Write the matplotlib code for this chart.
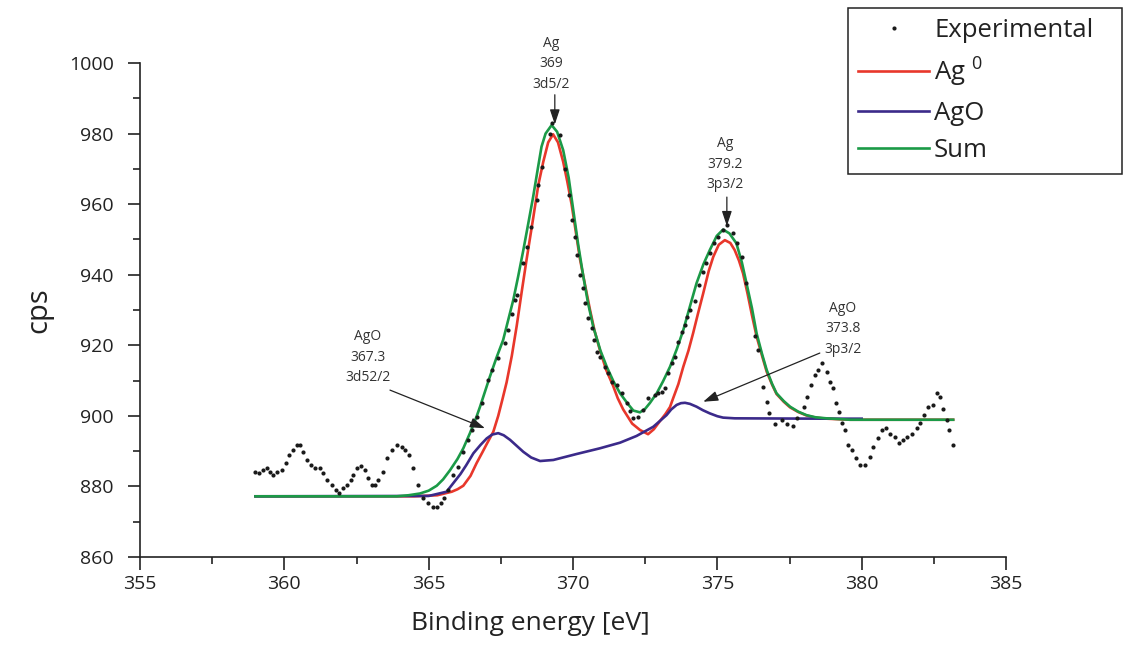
import matplotlib
matplotlib.use("Agg")
import matplotlib.pyplot as plt
from matplotlib.ticker import MultipleLocator

plt.rcParams['font.family'] = ['Open Sans', 'DejaVu Sans']
plt.rcParams['mathtext.fontset'] = 'custom'
plt.rcParams['mathtext.rm'] = 'Open Sans'
plt.rcParams['mathtext.it'] = 'Open Sans'

# ---------------- data ----------------
exp_energy = [
    359.00, 359.13, 359.27, 359.41, 359.50, 359.62, 359.76, 359.91, 360.06, 360.17,
    360.29, 360.43, 360.54, 360.66, 360.77, 360.91, 361.06, 361.23, 361.35, 361.49,
    361.64, 361.79, 361.90, 362.04, 362.18, 362.30, 362.39, 362.51, 362.64, 362.79,
    362.91, 363.03, 363.14, 363.25, 363.43, 363.55, 363.72, 363.89, 364.06, 364.18,
    364.33, 364.47, 364.64, 364.81, 364.99, 365.14, 365.28, 365.42, 365.53, 365.68,
    365.85, 366.03, 366.20, 366.37, 366.49, 366.66, 366.84, 367.07, 367.18, 367.41,
    367.64, 367.76, 367.87, 367.99, 368.05, 368.28, 368.39, 368.55, 368.74, 368.80,
    368.91, 369.20, 369.26, 369.55, 369.72, 369.86, 369.95, 370.07, 370.13, 370.24,
    370.36, 370.41, 370.53, 370.65, 370.73, 370.82, 370.93, 371.11, 371.22, 371.34,
    371.51, 371.69, 371.86, 371.97, 372.09, 372.26, 372.43, 372.60, 372.84, 372.95,
    373.07, 373.18, 373.30, 373.42, 373.53, 373.64, 373.76, 373.88, 373.96, 374.07,
    374.22, 374.37, 374.51, 374.61, 374.74, 374.88, 375.03, 375.18, 375.34, 375.55,
    375.69, 375.84, 376.01, 376.30, 376.42, 376.59, 376.71, 376.80, 377.00, 377.23,
    377.40, 377.61, 377.75, 378.00, 378.12, 378.23, 378.38, 378.50, 378.61, 378.79,
    378.90, 379.02, 379.11, 379.22, 379.31, 379.42, 379.53, 379.65, 379.80, 379.94,
    380.11, 380.29, 380.40, 380.57, 380.69, 380.84, 380.98, 381.15, 381.30, 381.44,
    381.56, 381.73, 381.90, 382.02, 382.16, 382.31, 382.46, 382.60, 382.73, 382.83,
    382.94, 383.03, 383.15,
]
exp_cps = [
    884.2, 883.7, 884.6, 885.1, 884.2, 883.2, 884.2, 884.6, 886.6, 888.9,
    890.3, 891.7, 891.7, 889.8, 887.5, 886.1, 885.1, 885.1, 883.7, 881.8,
    880.4, 879.0, 878.2, 879.5, 880.4, 881.8, 883.2, 885.1, 885.8, 884.6,
    882.3, 880.4, 880.4, 881.8, 884.2, 888.0, 890.3, 891.7, 891.3, 890.3,
    888.9, 885.1, 880.4, 876.6, 875.2, 874.3, 874.1, 875.2, 876.6, 879.0,
    883.2, 885.6, 889.8, 893.2, 896.0, 899.8, 903.6, 910.2, 913.0, 916.3,
    920.6, 924.3, 929.0, 932.8, 934.2, 943.2, 947.9, 953.6, 961.2, 965.4,
    970.6, 980.0, 982.9, 979.6, 970.0, 962.6, 955.5, 950.8, 945.6, 939.9,
    936.1, 931.9, 927.6, 924.8, 921.5, 918.0, 916.8, 913.9, 912.1, 909.7,
    908.7, 906.4, 903.6, 901.5, 899.3, 899.8, 901.7, 905.0, 905.9, 906.4,
    906.8, 907.8, 912.1, 914.9, 916.8, 920.8, 923.8, 925.7, 928.1, 930.0,
    932.6, 937.1, 940.8, 943.4, 946.1, 948.9, 950.8, 952.7, 954.1, 951.7,
    948.9, 945.1, 937.6, 922.6, 918.7, 908.1, 904.0, 900.9, 897.7, 898.8,
    897.7, 897.1, 899.3, 902.6, 905.4, 908.7, 911.6, 913.0, 914.9, 912.5,
    909.7, 907.8, 903.6, 901.2, 898.1, 896.0, 891.7, 890.3, 888.0, 886.1,
    886.1, 888.4, 891.3, 893.6, 896.0, 896.6, 895.0, 893.9, 892.2, 893.2,
    894.1, 895.0, 896.5, 897.9, 900.2, 902.6, 903.1, 906.4, 905.3, 901.9,
    898.8, 896.0, 891.7,
]

ag0_energy = [359.0, 364.5, 365.3, 365.8, 366.0, 366.2, 366.45, 366.66, 366.85, 367.01,
              367.24, 367.41, 367.55, 367.70, 367.88, 368.05, 368.22, 368.39, 368.62,
              368.80, 368.97, 369.14, 369.31, 369.48, 369.66, 369.80, 369.95, 370.10,
              370.24, 370.42, 370.59, 370.75, 370.93, 371.15, 371.39, 371.55, 371.74,
              372.05, 372.32, 372.60, 372.80, 373.01, 373.20, 373.36, 373.47, 373.65,
              373.82, 374.00, 374.16, 374.33, 374.51, 374.70, 374.86, 375.05, 375.26,
              375.45, 375.60, 375.75, 375.89, 376.05, 376.20, 376.36, 376.55, 376.71,
              376.90, 377.05, 377.30, 377.52, 377.80, 378.09, 378.40, 378.78, 379.59,
              383.17]
ag0_cps = [877.2, 877.2, 877.5, 878.5, 879.2, 880.2, 883.0, 886.6, 889.5, 892.0,
           895.5, 900.0, 904.5, 909.5, 917.0, 925.5, 935.0, 944.2, 956.0,
           965.5, 972.0, 977.5, 979.8, 977.5, 972.0, 966.5, 960.0, 952.0,
           944.5, 937.0, 930.0, 924.0, 918.7, 913.0, 908.5, 905.0, 901.8,
           897.8, 896.0, 894.8, 896.2, 898.5, 900.5, 902.5, 905.0, 909.0,
           913.9, 918.5, 923.4, 929.0, 934.7, 941.0, 945.1, 948.5, 949.8,
           949.0, 947.0, 944.0, 940.4, 934.5, 928.5, 922.5, 917.0, 912.5,
           908.8, 906.2, 904.0, 902.4, 901.1, 900.1, 899.5, 899.2, 898.9,
           898.9]

ago_energy = [359.0, 365.0, 365.62, 366.1, 366.3, 366.55, 366.8, 367.01, 367.2, 367.41,
              367.6, 367.82, 368.05, 368.28, 368.55, 368.86, 369.32, 370.13, 370.93,
              371.63, 372.20, 372.78, 373.24, 373.40, 373.59, 373.74, 373.88, 374.05,
              374.28, 374.50, 374.74, 375.00, 375.20, 375.60, 378.70, 380.0]
ago_cps = [877.2, 877.3, 878.5, 883.5, 886.0, 889.4, 891.8, 893.6, 894.7, 895.1,
           894.5, 893.2, 891.5, 889.8, 888.2, 887.2, 887.5, 889.2, 890.8,
           892.4, 894.3, 896.9, 900.2, 901.8, 903.1, 903.6, 903.7, 903.4,
           902.6, 901.6, 900.7, 899.9, 899.5, 899.3, 899.2, 899.2]

sum_energy = [359.0, 363.9, 364.3, 364.70, 365.0, 365.28, 365.5, 365.74, 366.0, 366.2,
              366.43, 366.66, 366.78, 367.12, 367.35, 367.58, 367.93, 368.10, 368.28,
              368.45, 368.62, 368.78, 368.91, 369.05, 369.26, 369.45, 369.66, 369.85,
              370.01, 370.18, 370.36, 370.52, 370.70, 370.95, 371.17, 371.40, 371.63,
              371.90, 372.09, 372.32, 372.50, 372.66, 372.90, 373.12, 373.36, 373.60,
              373.82, 374.05, 374.28, 374.52, 374.74, 374.98, 375.20, 375.42, 375.66,
              375.85, 376.01, 376.20, 376.36, 376.55, 376.71, 376.90, 377.05, 377.30,
              377.52, 377.80, 378.09, 378.40, 378.78, 379.59, 383.17]
sum_cps = [877.2, 877.2, 877.5, 878.0, 878.8, 880.2, 882.0, 884.6, 887.8, 890.8,
           895.1, 899.8, 902.6, 911.1, 916.5, 921.5, 932.8, 939.5, 947.0,
           954.5, 962.1, 970.0, 976.3, 980.0, 982.4, 980.5, 975.3, 967.5,
           958.3, 948.5, 939.4, 932.0, 925.3, 918.5, 913.9, 909.8, 906.4,
           903.4, 901.5, 901.0, 902.0, 903.6, 906.4, 909.8, 913.9, 919.0,
           924.3, 931.0, 937.6, 943.0, 947.0, 951.0, 952.8, 951.7, 948.9,
           943.5, 937.6, 930.5, 923.4, 917.5, 913.0, 909.0, 906.4, 904.2,
           902.6, 901.2, 900.2, 899.6, 899.3, 898.9, 898.9]

x_ticks = [355, 360, 365, 370, 375, 380, 385]
y_ticks = [860, 880, 900, 920, 940, 960, 980, 1000]

labels = ['Experimental', 'Ag $^{0}$', 'AgO', 'Sum']
colors = ['#1a1a1a', '#e8372b', '#3b2a8a', '#1b9a47']

# annotations: (text, text x, text bottom y, arrow start, arrow tip)
annotations = [
    ('Ag\n369\n3d5/2', 369.24, 991.8, (369.37, 991.0), (369.37, 982.6)),
    ('Ag\n379.2\n3p3/2', 375.26, 963.4, (375.33, 962.0), (375.33, 953.8)),
    ('AgO\n373.8\n3p3/2', 379.35, 916.7, (378.55, 917.8), (374.51, 904.0)),
    ('AgO\n367.3\n3d52/2', 362.90, 908.7, (363.66, 907.3), (366.95, 896.5)),
]

# ---------------- figure ----------------
fig = plt.figure(figsize=(11.24, 6.5), dpi=100)
ax = fig.add_axes([140 / 1124, 1 - 557 / 650, (1006 - 140) / 1124, (557 - 63) / 650])

l_ag0, = ax.plot(ag0_energy, ag0_cps, color=colors[1], lw=1.9, zorder=2,
                 solid_joinstyle='round')
l_ago, = ax.plot(ago_energy, ago_cps, color=colors[2], lw=1.9, zorder=3,
                 solid_joinstyle='round')
l_sum, = ax.plot(sum_energy, sum_cps, color=colors[3], lw=1.9, zorder=4,
                 solid_joinstyle='round')
l_exp, = ax.plot(exp_energy, exp_cps, ls='none', marker='o', ms=3.0,
                 color=colors[0], mew=0, zorder=5)

for txt, tx, ty, start, tip in annotations:
    ax.text(tx, ty, txt, ha='center', va='bottom', fontsize=10,
            color='#333333', linespacing=1.5, zorder=6)
    ax.annotate('', xy=tip, xytext=start,
                arrowprops=dict(arrowstyle='-|>,head_length=0.9,head_width=0.3',
                                color='#222222', lw=0.9, shrinkA=0, shrinkB=0),
                zorder=6)

ax.set_xlim(355, 385)
ax.set_ylim(860, 1000)
ax.set_xticks(x_ticks)
ax.set_yticks(y_ticks)
ax.xaxis.set_minor_locator(MultipleLocator(2.5))
ax.yaxis.set_minor_locator(MultipleLocator(10))
ax.spines['top'].set_visible(False)
ax.spines['right'].set_visible(False)
for s in ('left', 'bottom'):
    ax.spines[s].set_linewidth(1.2)
    ax.spines[s].set_color('#222222')
ax.tick_params(axis='both', which='major', length=9, width=1.2, color='#222222',
               labelsize=14, labelcolor='#222222', direction='out')
ax.tick_params(axis='both', which='minor', length=5, width=1.2, color='#222222',
               direction='out')
ax.tick_params(axis='x', which='major', pad=4)
ax.tick_params(axis='y', which='major', pad=10)

ax.set_xlabel('Binding energy [eV]', fontsize=19, color='#222222')
ax.xaxis.set_label_coords((530 - 140) / 866, -0.11)
ax.set_ylabel('cps', fontsize=21, color='#222222')
ax.yaxis.set_label_coords(-0.1, 0.5)

leg = fig.legend([l_exp, l_ag0, l_ago, l_sum], labels,
                 loc='upper left', mode='expand',
                 bbox_to_anchor=(848 / 1124, 1 - 168 / 650, 274 / 1124, 160 / 650),
                 bbox_transform=fig.transFigure, fontsize=18.5, frameon=True,
                 fancybox=False, framealpha=1, edgecolor='#222222',
                 handlelength=2.75, handletextpad=0.2, labelspacing=0.48,
                 borderpad=0.4, borderaxespad=0, markerscale=1.0)
leg.get_frame().set_linewidth(1.1)
for t in leg.get_texts():
    t.set_color('#222222')

fig.savefig('out.png', dpi=100)
